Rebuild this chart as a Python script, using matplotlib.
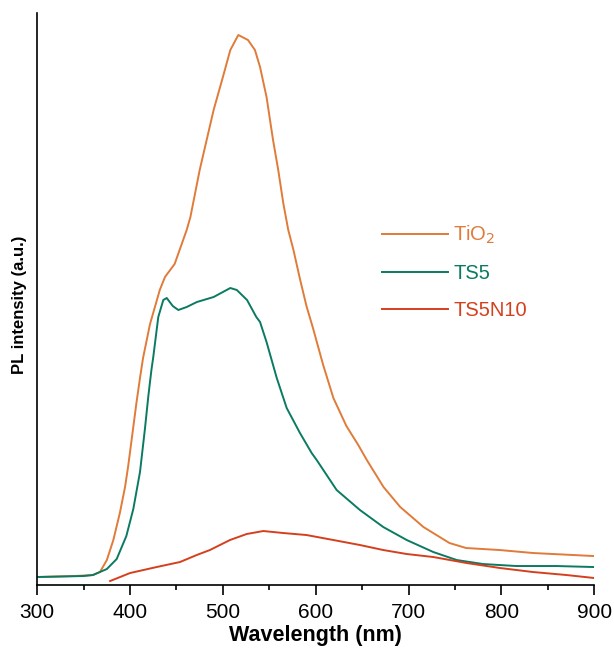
import matplotlib.pyplot as plt
from matplotlib.ticker import MultipleLocator

plt.rcParams['font.family'] = ['Liberation Sans', 'DejaVu Sans']

# PL spectra (wavelength in nm, intensity in a.u.)
wl_tio2 = [300, 340, 360, 367.6, 375, 382, 389, 394.6, 398, 401.8, 407, 410.7, 414, 421.5,
           432, 437.6, 448, 461, 465, 475, 490, 500, 508, 516.6, 527, 534.5, 540, 547,
           554, 559.6, 565, 570.4, 576, 583, 590, 597, 608, 619, 633, 645.8, 655, 673,
           691, 716, 744, 762, 798, 834, 899]
pl_tio2 = [7, 8, 9, 12, 24, 44, 71, 97, 118, 145, 182, 206, 226, 260,
           294, 307, 320, 354, 367, 414, 474, 507, 534, 549, 544, 534, 517, 487,
           444, 414, 381, 354, 334, 305, 278, 256, 219, 186, 158, 139, 124, 97,
           77, 57, 41, 36, 34, 31, 28]

wl_ts5 = [300, 350, 360, 375, 385.6, 396, 403.5, 410.7, 416, 419.7, 423, 425, 430.4, 435.8,
          439.5, 446, 452, 461, 472, 490, 508, 515, 526, 536, 540, 547, 558, 568.7, 583,
          595.6, 601, 622.5, 647.6, 672.7, 698, 726.6, 751.8, 780, 816, 859, 899]
pl_ts5 = [7, 8, 9, 15, 25, 48, 75, 112, 155, 188, 214, 227, 267, 284,
          286, 278, 274, 277, 282, 287, 296, 294, 284, 267, 262, 242, 206, 176, 151,
          131, 124, 94, 74, 57, 44, 32, 24, 20, 18, 18, 17]

wl_ts5n10 = [378.5, 400, 428.7, 453.8, 471.8, 486, 507.6, 525.6, 543.5, 565, 590, 619,
             647.6, 672.7, 698, 726.6, 762.5, 798.5, 834, 870, 900]
pl_ts5n10 = [3, 11, 17, 22, 29, 34, 44, 50, 53, 51, 49, 44,
             39, 34, 30, 27, 21, 16, 12, 9, 6]

fig = plt.figure(figsize=(6.14, 6.53), dpi=100)
ax = fig.add_axes([0.0606, 0.1041, 0.9073, 0.8760])

ax.plot(wl_tio2, pl_tio2, color='#E07B39', lw=1.4, label='TiO$_2$')
ax.plot(wl_ts5, pl_ts5, color='#0B7A62', lw=1.4, label='TS5')
ax.plot(wl_ts5n10, pl_ts5n10, color='#D4401E', lw=1.4, label='TS5N10')

ax.set_xlim(300, 900)
ax.set_ylim(-1, 571)
ax.xaxis.set_major_locator(MultipleLocator(100))
ax.xaxis.set_minor_locator(MultipleLocator(50))
ax.set_yticks([])
ax.spines['top'].set_visible(False)
ax.spines['right'].set_visible(False)
ax.spines['left'].set_linewidth(1.2)
ax.spines['bottom'].set_linewidth(1.2)
ax.tick_params(axis='x', which='major', direction='out', length=7, width=1.2, labelsize=15, pad=6)
ax.tick_params(axis='x', which='minor', direction='out', length=3.5, width=1.2)

ax.set_xlabel('Wavelength (nm)', fontsize=15.5, fontweight='bold', labelpad=2)
ax.set_ylabel('PL intensity (a.u.)', fontsize=12, fontweight='bold')
ax.yaxis.set_label_coords(-0.019, 0.49)

ax.legend(loc='upper left', bbox_to_anchor=(381.7 / 614, 1 - 224 / 653),
          bbox_transform=fig.transFigure, frameon=False, fontsize=14.5,
          handlelength=3.3, handletextpad=0.25, labelspacing=0.88,
          borderpad=0, borderaxespad=0, labelcolor='linecolor')

fig.savefig('out.png', dpi=100)
